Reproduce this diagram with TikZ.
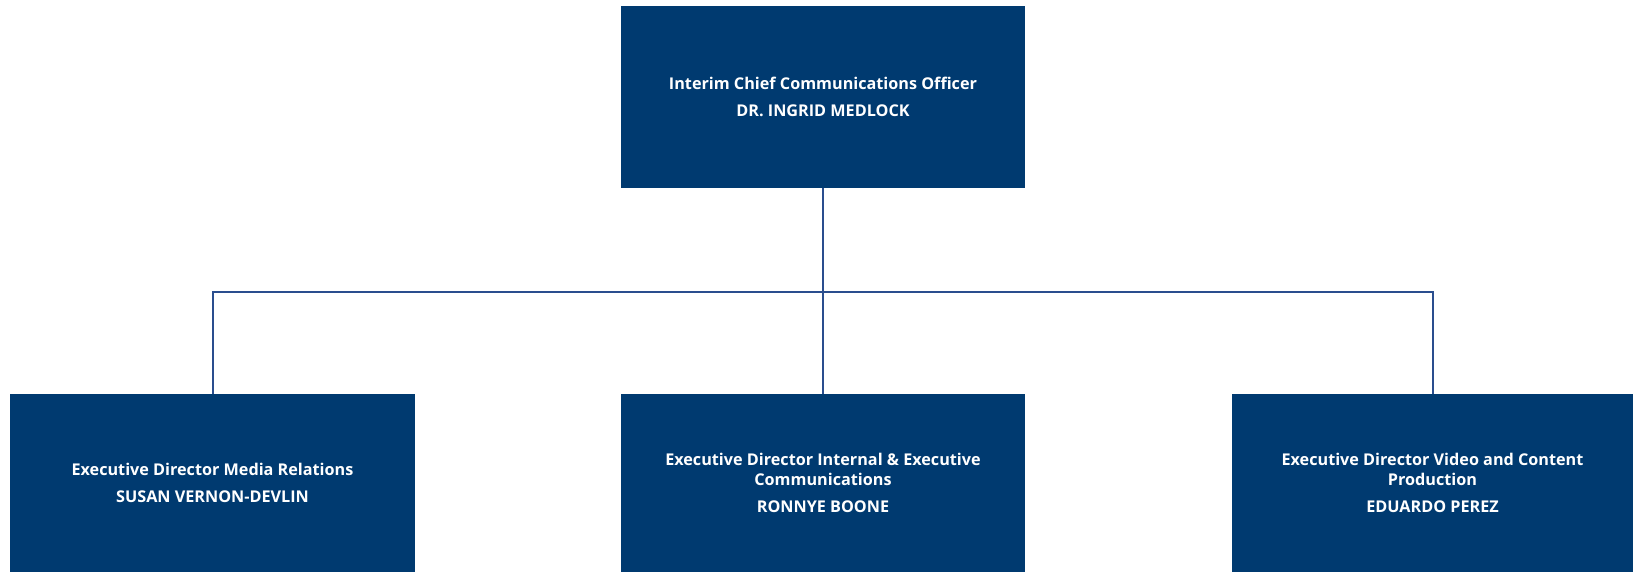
\documentclass[tikz,border=0pt]{standalone}
\usepackage{fontspec}
\setmainfont[Ligatures=NoCommon]{Open Sans}
\definecolor{boxblue}{HTML}{003A70}
\definecolor{lineblue}{HTML}{2A4E8E}
\begin{document}
\begin{tikzpicture}[x=1pt,y=-1pt,
  orgbox/.style={fill=boxblue,draw=none,text=white,align=center,inner sep=0pt,
    font=\fontsize{16.2}{20.5}\selectfont\bfseries},
  conn/.style={draw=lineblue,line width=2pt}]
\useasboundingbox[fill=white] (0,0) rectangle (1633,572);
\node[orgbox,minimum width=404pt,minimum height=182pt] (top) at (823,97)
  {Interim Chief Communications Officer\\[6.5pt]DR. INGRID MEDLOCK};
\node[orgbox,minimum width=405pt,minimum height=178pt] (left) at (212.5,483)
  {Executive Director Media Relations\\[6.5pt]SUSAN VERNON-DEVLIN};
\node[orgbox,minimum width=404pt,minimum height=178pt] (mid) at (823,483)
  {Executive Director Internal \& Executive\\Communications\\[6.5pt]RONNYE BOONE};
\node[orgbox,minimum width=401pt,minimum height=178pt] (right) at (1432.5,483)
  {Executive Director Video and Content\\Production\\[6.5pt]EDUARDO PEREZ};
\coordinate (bus) at (823,291.5);
\draw[conn] (top.south) -- (mid.north);
\draw[conn] (left.north) |- (bus) -| (right.north);
\end{tikzpicture}
\end{document}
